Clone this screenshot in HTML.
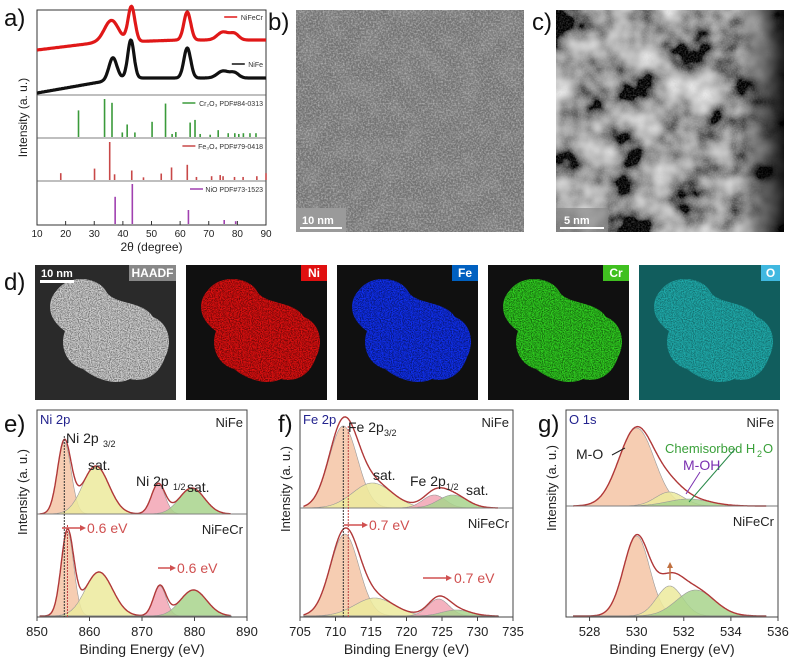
<!DOCTYPE html>
<html><head><meta charset="utf-8">
<style>
body{margin:0;background:#fff;width:800px;height:668px;overflow:hidden;font-family:"Liberation Sans",sans-serif}
svg{display:block}
text{font-family:"Liberation Sans",sans-serif}
</style></head>
<body>
<svg id="fig" width="800" height="668" viewBox="0 0 800 668">
<defs>
<filter id="temlo" x="0" y="0" width="100%" height="100%">
<feTurbulence type="fractalNoise" baseFrequency="0.05" numOctaves="2" seed="5"/>
<feColorMatrix type="matrix" values="0 0 0 0 0.2 0 0 0 0 0.2 0 0 0 0 0.2 0 0 0 -4 2.3"/>
</filter>
<filter id="tem" x="0" y="0" width="100%" height="100%">
<feTurbulence type="fractalNoise" baseFrequency="0.6" numOctaves="2" seed="3"/>
<feColorMatrix type="matrix" values="0 0 0 0 0.55 0 0 0 0 0.55 0 0 0 0 0.55 0 0 0 1.6 -0.6"/>
</filter>
<filter id="haadf" x="0" y="0" width="100%" height="100%">
<feTurbulence type="fractalNoise" baseFrequency="0.028" numOctaves="3" seed="11"/>
<feColorMatrix type="matrix" values="1.6 0 0 0 -0.5 1.6 0 0 0 -0.5 1.6 0 0 0 -0.5 0 0 0 0 1"/>
</filter>
<linearGradient id="cdark" x1="0" x2="1" y1="0" y2="0">
<stop offset="0.8" stop-color="#000" stop-opacity="0"/><stop offset="1" stop-color="#000" stop-opacity="0.85"/>
</linearGradient>
<filter id="spk" x="0" y="0" width="100%" height="100%">
<feTurbulence type="fractalNoise" baseFrequency="0.9" numOctaves="1" seed="2"/>
<feColorMatrix type="matrix" values="0 0 0 0 0 0 0 0 0 0 0 0 0 0 0 0 0 0 -2.5 1.6"/>
</filter>
<clipPath id="blob"><path d="M22,25 C35,8 65,12 72,28 C82,40 108,36 118,52 C134,58 138,78 130,92 C125,108 112,118 95,114 C78,122 58,112 48,104 C32,100 24,82 30,66 C14,55 10,38 22,25Z"/></clipPath>
</defs>

<g id="pa"></g>

<g>
<rect x="296" y="10" width="228" height="222" fill="#727272"/>
<rect x="296" y="10" width="228" height="222" filter="url(#temlo)"/>
<rect x="296" y="10" width="228" height="222" filter="url(#tem)"/>
<rect x="296" y="208" width="50" height="24" fill="#9a9a9a"/>
<rect x="300" y="227" width="42" height="2" fill="#fff"/>
<text x="302" y="224" font-size="11" fill="#fff" font-weight="bold">10 nm</text>
</g>
<g>
<rect x="556" y="10" width="228" height="222" filter="url(#haadf)"/>
<rect x="556" y="10" width="228" height="222" filter="url(#tem)" opacity="0.4"/>
<rect x="556" y="10" width="228" height="222" fill="url(#cdark)"/>
<rect x="556" y="208" width="52" height="24" fill="#888" opacity="0.7"/>
<rect x="560" y="227" width="44" height="2" fill="#fff"/>
<text x="564" y="224" font-size="11" fill="#fff" font-weight="bold">5 nm</text>
</g>

<g id="pd"></g>

<g id="pe"></g>
<g id="pf"></g>
<g id="pg"></g>

<g font-size="24" fill="#111">
<text x="4" y="26">a)</text><text x="268" y="30">b)</text><text x="532" y="30">c)</text>
<text x="4" y="290">d)</text><text x="4" y="432">e)</text><text x="278" y="432">f)</text><text x="538" y="432">g)</text>
</g>
</svg>
<script>
const NS="http://www.w3.org/2000/svg";
function mk(p,tag,at,txt){const e=document.createElementNS(NS,tag);for(const k in at)e.setAttribute(k,at[k]);if(txt!==undefined)e.textContent=txt;p.appendChild(e);return e;}

const xrdTicks=[10,20,30,40,50,60,70,80,90];
const nifecrPeaks=[[36,22,2.5],[43,35,1.2],[62.5,28,1.2],[75,8,2],[79,6,1.5]];
const nifePeaks=[[36.5,22,1.4],[42.8,38,1.1],[62.5,30,1.2],[75,7,2],[79,5,1.5]];
const cr2o3Pos=[24.5,33.6,36.2,39.8,41.5,44.2,50.2,54.9,57.2,58.5,63.5,65.2,67,70.5,73.3,76.8,79.1,80.5,82.1,84.4,86.5];
const cr2o3Int=[70,100,90,12,33,12,40,88,8,13,38,45,8,6,18,10,10,8,10,10,10];
const fe3o4Pos=[18.3,30.1,35.4,37.1,43.1,47.2,53.4,57,62.5,65.7,71,74,75,79,82,86.8,90];
const fe3o4Int=[18,30,100,15,25,7,17,33,40,8,10,13,10,8,8,10,18];
const nioPos=[37.3,43.3,62.9,75.4,79.4];
const nioInt=[68,100,35,10,7];

(function(){
 const g=document.getElementById('pa');
 const X0=37,X1=266,Y0=10,Y1=225;
 const x=v=>X0+(v-10)/80*(X1-X0);
 mk(g,'rect',{x:X0,y:Y0,width:X1-X0,height:Y1-Y0,fill:'none',stroke:'#333','stroke-width':1});
 [95,138,181].forEach(y=>mk(g,'line',{x1:X0,x2:X1,y1:y,y2:y,stroke:'#555','stroke-width':0.8}));
 function curve(peaks,base,slope,col,name){
  let d='';for(let v=10;v<=90;v+=0.25){let s=0;peaks.forEach(p=>s+=p[1]*Math.exp(-((v-p[0])**2)/(2*p[2]*p[2])));
   const y=base-slope(v)-s;d+=(d?'L':'M')+x(v).toFixed(1)+','+y.toFixed(1);}
  const e=mk(g,'path',{d:d,fill:'none',stroke:col,'stroke-width':3.2,'stroke-linejoin':'round'});
  
 }
 curve(nifecrPeaks,50,v=>v<30?(v-10)*0.35:7+Math.min(3,(v-30)*0.1),'#e01818','nifecr-pattern');
 curve(nifePeaks,93,v=>v<40?(v-10)*0.5:15,'#111','nife-pattern');
 function sticks(pos,inten,yb,h,col,name){pos.forEach((p,i)=>{const e=mk(g,'line',{x1:x(p),x2:x(p),y1:yb,y2:yb-inten[i]/100*h,stroke:col,'stroke-width':1.6});
  });}
 sticks(cr2o3Pos,cr2o3Int,137,38,'#3a9a3a','cr2o3-stick');
 sticks(fe3o4Pos,fe3o4Int,180,38,'#c84848','fe3o4-stick');
 sticks(nioPos,nioInt,224,40,'#a040b0','nio-stick');
 const leg=[[17,'#e01818','NiFeCr'],[64,'#111','NiFe'],[103,'#3a9a3a','Cr₂O₃ PDF#84-0313'],[146,'#c84848','Fe₃O₄ PDF#79-0418'],[189,'#a040b0','NiO PDF#73-1523']];
 leg.forEach(l=>{const tx=mk(g,'text',{x:263,y:l[0]+3,'font-size':7,'text-anchor':'end',fill:'#333'},l[2]);
  
  const w=l[2].length*3.8;mk(g,'line',{x1:263-w-16,x2:263-w-3,y1:l[0],y2:l[0],stroke:l[1],'stroke-width':1.5});});
 xrdTicks.forEach(t=>{mk(g,'line',{x1:x(t),x2:x(t),y1:Y1,y2:Y1-4,stroke:'#333'});
  const tx=mk(g,'text',{x:x(t),y:Y1+12,'font-size':10,'text-anchor':'middle',fill:'#222'},t);
  });
 mk(g,'text',{x:(X0+X1)/2,y:Y1+26,'font-size':12,'text-anchor':'middle',fill:'#222'},'2θ (degree)');
 mk(g,'text',{x:0,y:0,'font-size':12,'text-anchor':'middle',fill:'#222',transform:`translate(27,${(Y0+Y1)/2}) rotate(-90)`},'Intensity (a. u.)');
})();

const edsLabels=['HAADF','Ni','Fe','Cr','O'];
const edsColors=['#d0d0d0','#e01010','#1030f0','#30d020','#20b0b0'];
const edsTagBg=['#888','#e01010','#0060c0','#40c020','#40b8e0'];
(function(){
 const g=document.getElementById('pd');
 edsLabels.forEach((lab,i)=>{
  const x0=35+i*151,y0=265,w=141,h=135;
  const gg=mk(g,'g',{transform:`translate(${x0},${y0})`});
  
  mk(gg,'rect',{x:0,y:0,width:w,height:h,fill:i==0?'#2a2a2a':(i==4?'#0a3a3a':'#101010')});
  const bg=mk(gg,'g',{'clip-path':'url(#blob)'});
  mk(bg,'rect',{x:0,y:0,width:w,height:h,fill:edsColors[i]});
  mk(bg,'rect',{x:0,y:0,width:w,height:h,filter:'url(#spk)',opacity:i==0?0.5:0.6});
  if(i==4)mk(gg,'rect',{x:0,y:0,width:w,height:h,fill:'#20a0a0',opacity:0.35});
  const tw=lab.length*7+12;
  mk(gg,'rect',{x:w-tw,y:0,width:tw,height:16,fill:edsTagBg[i]});
  mk(gg,'text',{x:w-tw/2,y:12,'font-size':12,'font-weight':'bold','text-anchor':'middle',fill:'#fff'},lab);
  if(i==0){mk(gg,'text',{x:6,y:12,'font-size':11,'font-weight':'bold',fill:'#fff'},'10 nm');mk(gg,'rect',{x:5,y:15,width:34,height:3,fill:'#fff'});}
 });
})();

const niTicks=[850,860,870,880,890];
const niTop=[[855.2,72,1.3,'#f4c4a4'],[861.2,48,2.5,'#ecea9c'],[873.1,30,1.3,'#f2a4b4'],[879.5,26,2.4,'#a8d48c']];
const niBot=[[855.8,84,1.2,'#f4c4a4'],[861.8,44,2.6,'#ecea9c'],[873.4,30,1.2,'#f2a4b4'],[879.8,26,2.5,'#a8d48c']];
const feTicks=[705,710,715,720,725,730,735];
const feTop=[[711.1,82,2.0,'#f4c4a4'],[715.2,25,2.8,'#ecea9c'],[723.9,13,1.6,'#f2a4b4'],[726.5,13,2.0,'#a8d48c']];
const feBot=[[711.3,82,2.0,'#f4c4a4'],[715.5,18,2.8,'#ecea9c'],[724.5,17,1.5,'#f2a4b4'],[727,6,2.0,'#a8d48c']];
const oTicks=[528,530,532,534,536];
const oTop=[[530,78,0.75,'#f4c4a4'],[531.4,14,0.6,'#ecea9c'],[532.2,7,0.9,'#a8d48c']];
const oBot=[[530,80,0.55,'#f4c4a4'],[531.4,30,0.55,'#ecea9c'],[532.5,26,0.8,'#a8d48c']];

function xps(id,ticks,xmin,xmax,X0,X1,yTopBase,top,bot,title,curveMin,curveMax){
 const g=document.getElementById(id);const Y0=410,Y1=617;
 const x=v=>X0+(v-xmin)/(xmax-xmin)*(X1-X0);
 mk(g,'rect',{x:X0,y:Y0,width:X1-X0,height:Y1-Y0,fill:'none',stroke:'#444','stroke-width':1});
 mk(g,'line',{x1:X0,x2:X1,y1:yTopBase,y2:yTopBase,stroke:'#777','stroke-width':1});
 function draw(peaks,base,nm){
  const step=(curveMax-curveMin)/300;
  peaks.forEach(p=>{let d='M'+x(curveMin)+','+base;for(let v=curveMin;v<=curveMax;v+=step){d+='L'+x(v).toFixed(1)+','+(base-p[1]*Math.exp(-((v-p[0])**2)/(2*p[2]*p[2]))).toFixed(1);}
   d+='L'+x(curveMax)+','+base+'Z';
   const e=mk(g,'path',{d:d,fill:p[3],'fill-opacity':0.85,stroke:'#999','stroke-width':0.6});
   });
  let d='';for(let v=curveMin;v<=curveMax;v+=step){let s=0;peaks.forEach(p=>s+=p[1]*Math.exp(-((v-p[0])**2)/(2*p[2]*p[2])));d+=(d?'L':'M')+x(v).toFixed(1)+','+(base-s).toFixed(1);}
  const e=mk(g,'path',{d:d,fill:'none',stroke:'#b03838','stroke-width':1.4});
  
  mk(g,'line',{x1:x(curveMin),x2:x(curveMax),y1:base,y2:base,stroke:'#777','stroke-width':0.8});
 }
 draw(top,yTopBase,'nife');draw(bot,Y1-1,'nifecr');
 ticks.forEach(t=>{mk(g,'line',{x1:x(t),x2:x(t),y1:Y1,y2:Y1+4,stroke:'#444'});
  const tx=mk(g,'text',{x:x(t),y:Y1+19,'font-size':13,'text-anchor':'middle',fill:'#222'},t);
  });
 mk(g,'text',{x:(X0+X1)/2,y:Y1+37,'font-size':14,'text-anchor':'middle',fill:'#222'},'Binding Energy (eV)');
 mk(g,'text',{x:0,y:0,'font-size':13,'text-anchor':'middle',fill:'#222',transform:`translate(${X0-10},${(Y0+yTopBase)/2+30}) rotate(-90)`},'Intensity (a. u.)');
 mk(g,'text',{x:X0+3,y:Y0+14,'font-size':13,fill:'#23238e'},title);
 mk(g,'text',{x:X1-4,y:Y0+17,'font-size':13,'text-anchor':'end',fill:'#222'},'NiFe');
 mk(g,'text',{x:X1-4,y:yTopBase+20,'font-size':13,'text-anchor':'end',fill:'#222'},'NiFeCr');
 return x;
}
const xe=xps('pe',niTicks,850,890,37,247,514,niTop,niBot,'Ni 2p',850.5,887);
const xf=xps('pf',feTicks,705,735,300,513,508,feTop,feBot,'Fe 2p',705.5,733);
const xg=xps('pg',oTicks,527,536,566,778,506,oTop,oBot,'O 1s',527.3,535.5);

(function(){
 const g=document.getElementById('pe');
 mk(g,'text',{x:66,y:443,'font-size':14,fill:'#222'},'Ni 2p');mk(g,'text',{x:103,y:447,'font-size':9,fill:'#222'},'3/2');
 mk(g,'text',{x:88,y:470,'font-size':14,fill:'#222'},'sat.');
 mk(g,'text',{x:136,y:486,'font-size':14,fill:'#222'},'Ni 2p');mk(g,'text',{x:173,y:490,'font-size':9,fill:'#222'},'1/2');
 mk(g,'text',{x:187,y:492,'font-size':14,fill:'#222'},'sat.');
 mk(g,'line',{x1:xe(855.2),x2:xe(855.2),y1:436,y2:617,stroke:'#333','stroke-dasharray':'2,1'});
 mk(g,'line',{x1:xe(855.8),x2:xe(855.8),y1:525,y2:617,stroke:'#c04040','stroke-dasharray':'2,1'});
 mk(g,'line',{x1:62,x2:80,y1:528,y2:528,stroke:'#d05050','stroke-width':1.5});mk(g,'path',{d:'M80,525L86,528L80,531Z',fill:'#d05050'});
 mk(g,'text',{x:87,y:533,'font-size':14,fill:'#d05050'},'0.6 eV');
 mk(g,'line',{x1:158,x2:170,y1:568,y2:568,stroke:'#d05050','stroke-width':1.5});mk(g,'path',{d:'M170,565L176,568L170,571Z',fill:'#d05050'});
 mk(g,'text',{x:177,y:573,'font-size':14,fill:'#d05050'},'0.6 eV');
})();
(function(){
 const g=document.getElementById('pf');
 mk(g,'text',{x:348,y:432,'font-size':14,fill:'#222'},'Fe 2p');mk(g,'text',{x:384,y:436,'font-size':9,fill:'#222'},'3/2');
 mk(g,'text',{x:373,y:480,'font-size':14,fill:'#222'},'sat.');
 mk(g,'text',{x:410,y:486,'font-size':14,fill:'#222'},'Fe 2p');mk(g,'text',{x:446,y:490,'font-size':9,fill:'#222'},'1/2');
 mk(g,'text',{x:466,y:495,'font-size':14,fill:'#222'},'sat.');
 mk(g,'line',{x1:xf(711.1),x2:xf(711.1),y1:426,y2:617,stroke:'#333','stroke-dasharray':'2,1'});
 mk(g,'line',{x1:xf(711.8),x2:xf(711.8),y1:426,y2:617,stroke:'#c04040','stroke-dasharray':'2,1'});
 mk(g,'line',{x1:344,x2:362,y1:525,y2:525,stroke:'#d05050','stroke-width':1.5});mk(g,'path',{d:'M362,522L368,525L362,528Z',fill:'#d05050'});
 mk(g,'text',{x:369,y:530,'font-size':14,fill:'#d05050'},'0.7 eV');
 mk(g,'line',{x1:423,x2:446,y1:578,y2:578,stroke:'#d05050','stroke-width':1.5});mk(g,'path',{d:'M446,575L452,578L446,581Z',fill:'#d05050'});
 mk(g,'text',{x:454,y:583,'font-size':14,fill:'#d05050'},'0.7 eV');
})();
(function(){
 const g=document.getElementById('pg');
 mk(g,'text',{x:576,y:459,'font-size':14,fill:'#222'},'M-O');
 mk(g,'line',{x1:612,x2:625,y1:455,y2:448,stroke:'#222'});
 mk(g,'text',{x:665,y:453,'font-size':13,fill:'#3aa03a'},'Chemisorbed H');mk(g,'text',{x:757,y:457,'font-size':9,fill:'#3aa03a'},'2');mk(g,'text',{x:763,y:453,'font-size':13,fill:'#3aa03a'},'O');
 mk(g,'text',{x:683,y:470,'font-size':14,fill:'#7a30b0'},'M-OH');
 mk(g,'line',{x1:686,x2:700,y1:494,y2:472,stroke:'#7a30b0'});
 mk(g,'line',{x1:689,x2:735,y1:502,y2:449,stroke:'#2a8a4a'});
 mk(g,'line',{x1:670,x2:670,y1:580,y2:566,stroke:'#c07040','stroke-width':1.5});mk(g,'path',{d:'M667,568L670,562L673,568Z',fill:'#c07040'});
})();
</script>
</body></html>
